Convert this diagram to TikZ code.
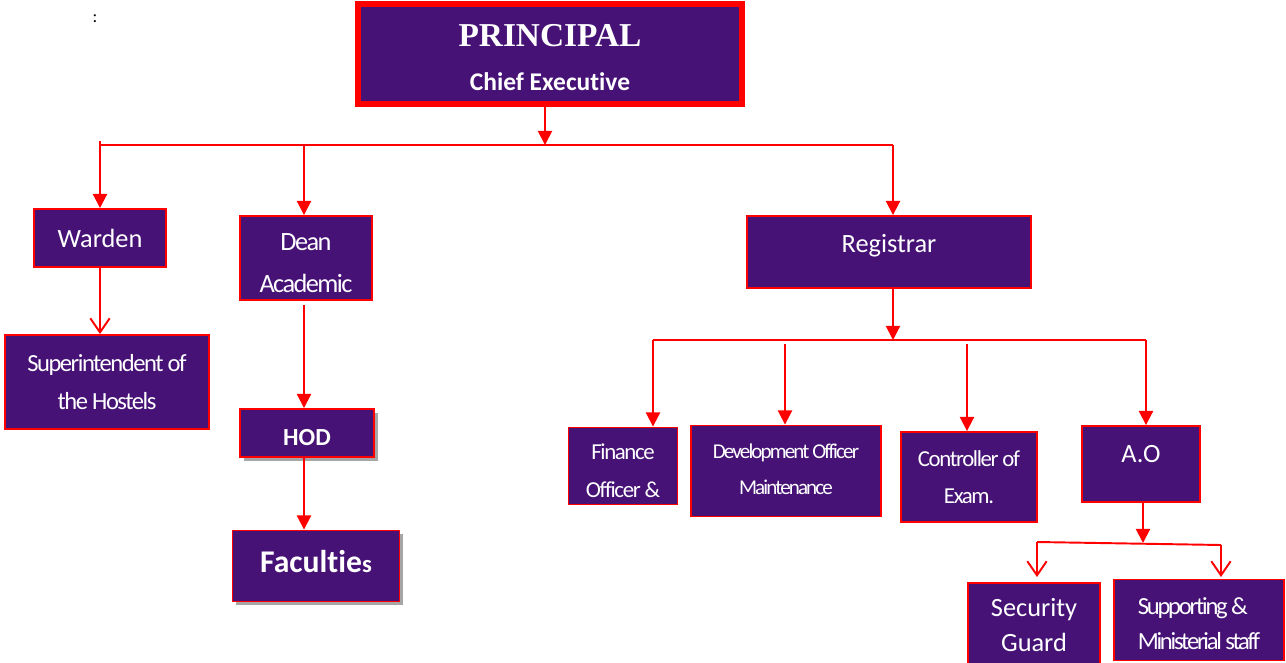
\documentclass[tikz,border=0pt]{standalone}
\usepackage{fontspec}
\setmainfont[Ligatures=NoCommon]{Carlito}
\newfontfamily\titlefont{Liberation Serif}
\newfontfamily\narrowfont[LetterSpace=-6,Ligatures=NoCommon]{Carlito}
\newfontfamily\narrowerfont[LetterSpace=-9,Ligatures=NoCommon]{Carlito}
\usetikzlibrary{arrows.meta,shadows}
\definecolor{boxpurple}{RGB}{70,18,118}
\definecolor{boxred}{RGB}{255,0,0}
% move a line of text up or down without changing the node size
\newcommand{\shiftbox}[2]{\raisebox{#1}[\height][\depth]{#2}}

\begin{document}
\begin{tikzpicture}[x=0.02cm,y=-0.02cm,line width=1.1pt,
    post/.style={draw=boxred,fill=boxpurple,text=white,align=center,inner sep=0pt,
      line width=1.1pt,font=\fontsize{15}{22}\selectfont},
    shadowed/.style={drop shadow={fill=black!35,opacity=1,shadow xshift=2pt,shadow yshift=-2pt}},
    tip/.style={draw=boxred,-{Triangle[length=8pt,width=8pt]}},
    opentip/.style={draw=boxred,-{Straight Barb[length=8pt,width=11pt]}},
    link/.style={draw=boxred}]
      \useasboundingbox (0,0) rectangle (1286,663);

      \node (colon) at (95,19) {:};

      % top
      \node[post,line width=3.4pt,minimum width=7.68cm,minimum height=2cm] (pr) at (550,54)
        {\shiftbox{-1.5pt}{\titlefont\bfseries\fontsize{19}{25}\selectfont PRINCIPAL}\\[2pt]
         \shiftbox{-2.5pt}{\bfseries\fontsize{14.5}{16}\selectfont Chief Executive}};

      % second row
      \node[post,minimum width=2.64cm,minimum height=1.16cm] (wd) at (100,238) {Warden};
      \node[post,minimum width=2.64cm,minimum height=1.68cm,font=\narrowfont\fontsize{15}{22}\selectfont] (dn) at (306,258)
        {\shiftbox{-1.8pt}{Dean}\\\shiftbox{-3.8pt}{Academic}};
      \node[post,minimum width=5.68cm,minimum height=1.44cm] (rg) at (889,252) {\shiftbox{3.4pt}{Registrar}};

      % left branches
      \node[post,minimum width=4.08cm,minimum height=1.88cm,font=\narrowfont\fontsize{14}{22}\selectfont] (si) at (107,382) {Superintendent of\\the Hostels};
      \node[post,shadowed,minimum width=2.68cm,minimum height=0.96cm,font=\bfseries\fontsize{14}{18}\selectfont] (hod) at (307,433) {\shiftbox{-2.8pt}{HOD}};
      \node[post,shadowed,minimum width=3.34cm,minimum height=1.42cm,font=\bfseries\fontsize{18}{22}\selectfont] (fc) at (316,566)
        {\shiftbox{2.3pt}{Facultie{\fontsize{14}{18}\selectfont s}}};

      % registrar branches
      \node[post,minimum width=2.18cm,minimum height=1.54cm,font=\narrowfont\fontsize{13}{21}\selectfont] (fo) at (623,466)
        {\shiftbox{-2.6pt}{Finance}\\\shiftbox{-3.2pt}{Officer \&}};
      \node[post,minimum width=3.8cm,minimum height=1.82cm,font=\narrowerfont\fontsize{12}{20}\selectfont] (dv) at (786,471)
        {\shiftbox{1pt}{Development Officer}\\\shiftbox{1pt}{Maintenance}};
      \node[post,minimum width=2.72cm,minimum height=1.8cm,font=\narrowfont\fontsize{13}{21}\selectfont] (ce) at (969,477) {Controller of\\Exam.};
      \node[post,minimum width=2.36cm,minimum height=1.52cm] (ao) at (1141,464) {\shiftbox{5.7pt}{A.O}};

      % staff under A.O
      \node[post,minimum width=2.64cm,minimum height=1.68cm,font=\fontsize{15}{20}\selectfont] (sg) at (1034,625) {Security\\Guard};
      \node[post,minimum width=3.4cm,minimum height=1.62cm,align=left,font=\narrowerfont\fontsize{14}{20}\selectfont] (ss) at (1199,620)
        {\shiftbox{-2.3pt}{Supporting \&}\\\shiftbox{-2.3pt}{Ministerial staff}};

      % buses
      \coordinate (bus) at (100,145);
      \coordinate (bus2) at (653,340);
      \coordinate (dvtop) at (785,344);
      \coordinate (cetop) at (967,344);
      \coordinate (aobot) at (1143,543);
      \coordinate (sgtop) at (1037,542);
      \coordinate (sstop) at (1221,545);

      \draw[tip] (pr.south -| 545,0) -- (545,145);
      \draw[link] (bus) -- (bus -| 893,0);
      \draw[link] (bus) -- ++(0,-4);
      \draw[tip] (bus) -- (wd.north);
      \draw[tip] (bus -| 304,0) -- (dn.north -| 304,0);
      \draw[tip] (bus -| 893,0) -- (rg.north -| 893,0);

      \draw[opentip] (wd.south) -- (si.north -| wd.south);
      \draw[tip] (dn.south -| 304,0) ++(0,4) -- (hod.north -| 304,0);
      \draw[tip] (hod.south -| 304,0) -- (fc.north -| 304,0);

      \draw[tip] (rg.south -| 893,0) -- (bus2 -| 893,0);
      \draw[link] (bus2) -- (bus2 -| 1146,0);
      \draw[tip] (bus2) -- (bus2 |- fo.north);
      \draw[tip] (dvtop) -- (dvtop |- dv.north);
      \draw[tip] (cetop) -- (cetop |- ce.north);
      \draw[tip] (bus2 -| 1146,0) -- (ao.north -| 1146,0);

      \draw[tip] (ao.south -| aobot) -- (aobot);
      \draw[link] (sgtop) -- (sstop);
      \draw[opentip] (sgtop) -- (1037,577);
      \draw[opentip] (sstop) -- (1221,577);
    \end{tikzpicture}
\end{document}
